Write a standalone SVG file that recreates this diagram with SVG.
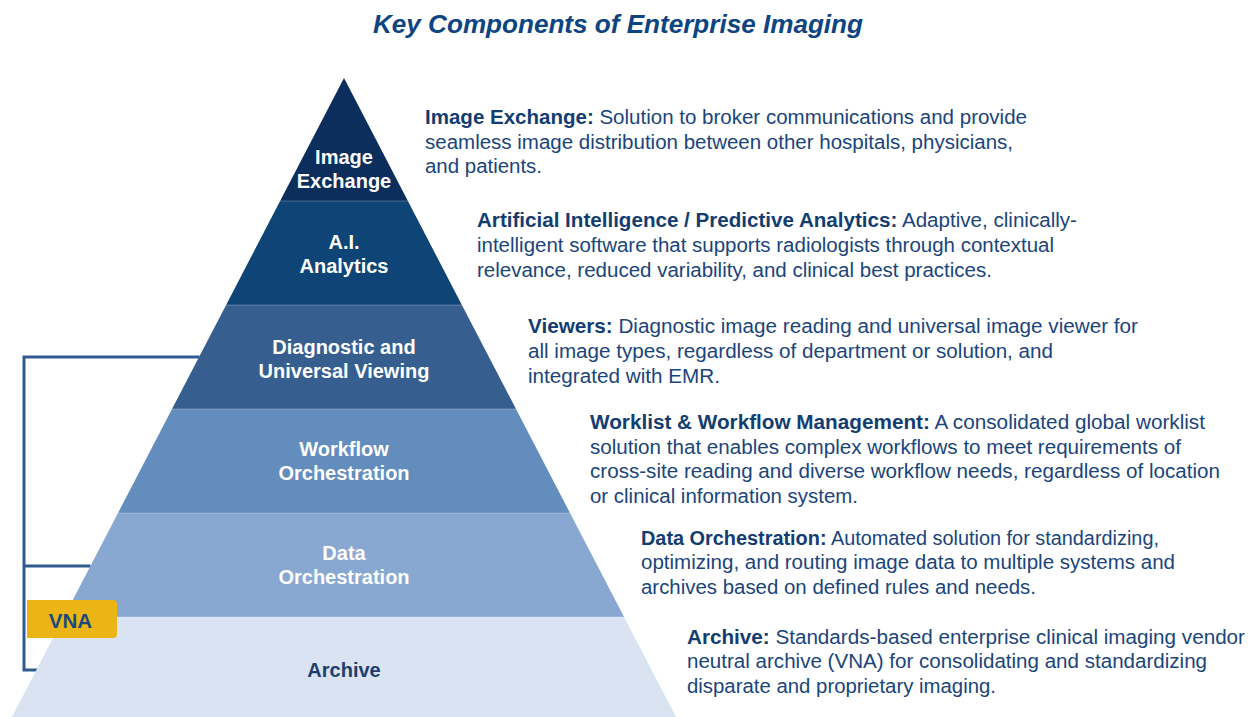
<svg xmlns="http://www.w3.org/2000/svg" width="1256" height="717" viewBox="0 0 1256 717">
  <style>
    .title { font-family: "Liberation Sans", Arial, sans-serif; font-size: 26px; font-weight: bold; font-style: italic; fill: #0d4482; }
    .lbl { font-family: "Liberation Sans", Arial, sans-serif; font-size: 20px; font-weight: bold; fill: #ffffff; text-anchor: middle; }
    .lbl-dark { fill: #1e3f6e; }
    .desc { font-family: "Liberation Sans", Arial, sans-serif; font-size: 19.5px; fill: #1a457b; }
    .desc .b { font-weight: bold; fill: #133d71; }
    .bracket { fill: none; stroke: #2f5b90; stroke-width: 3; }
    .sep { stroke: #ffffff; stroke-opacity: 0.25; stroke-width: 1; }
  </style>

  <rect width="1256" height="717" fill="#ffffff"/>

  <text class="title" x="373" y="33" textLength="490" lengthAdjust="spacingAndGlyphs">Key Components of Enterprise Imaging</text>

  <!-- VNA bracket lines -->
  <g id="connectors">
    <path class="bracket" d="M199.5 357 H24 V670 H37"/>
    <path class="bracket" d="M24 566 H90.5"/>
  </g>

  <!-- pyramid tiers, top to bottom -->
  <g id="tier-image-exchange">
    <polygon points="344,78 407.9,201 280.1,201" fill="#0b2e5c"/>
    <text class="lbl" x="344" y="164">Image</text>
    <text class="lbl" x="344" y="188">Exchange</text>
  </g>
  <g id="tier-ai-analytics">
    <polygon points="280.1,201 407.9,201 461.9,305 226.1,305" fill="#0f4476"/>
    <text class="lbl" x="344" y="249">A.I.</text>
    <text class="lbl" x="344" y="273">Analytics</text>
  </g>
  <g id="tier-viewing">
    <polygon points="226.1,305 461.9,305 516,409 172,409" fill="#365f90"/>
    <text class="lbl" x="344" y="354">Diagnostic and</text>
    <text class="lbl" x="344" y="378">Universal Viewing</text>
  </g>
  <g id="tier-workflow">
    <polygon points="172,409 516,409 570,513 118,513" fill="#628dbd"/>
    <text class="lbl" x="344" y="456">Workflow</text>
    <text class="lbl" x="344" y="480">Orchestration</text>
  </g>
  <g id="tier-data">
    <polygon points="118,513 570,513 624.1,617 63.9,617" fill="#88a8d2"/>
    <text class="lbl" x="344" y="560">Data</text>
    <text class="lbl" x="344" y="584">Orchestration</text>
  </g>
  <g id="tier-archive">
    <polygon points="63.9,617 624.1,617 676,717 12,717" fill="#d9e3f1"/>
    <text class="lbl lbl-dark" x="344" y="677">Archive</text>
  </g>
  <g id="tier-separators">
    <line class="sep" x1="280.1" y1="201" x2="407.9" y2="201"/>
    <line class="sep" x1="226.1" y1="305" x2="461.9" y2="305"/>
    <line class="sep" x1="172" y1="409" x2="516" y2="409"/>
    <line class="sep" x1="118" y1="513" x2="570" y2="513"/>
    <line class="sep" x1="63.9" y1="617" x2="624.1" y2="617"/>
  </g>

  <!-- VNA tag -->
  <g id="vna">
    <path d="M27 600 H113 Q117 600 117 604 V634 Q117 638 113 638 H27 Z" fill="#ebb515"/>
    <text x="70.5" y="628" font-family="Liberation Sans, Arial, sans-serif" font-size="20.5" font-weight="bold" fill="#1b4a80" text-anchor="middle">VNA</text>
  </g>

  <!-- descriptions -->
  <g id="desc-image-exchange" class="desc">
    <text x="425" y="124" textLength="602" lengthAdjust="spacingAndGlyphs"><tspan class="b">Image Exchange:</tspan> Solution to broker communications and provide</text>
    <text x="425" y="149" textLength="588" lengthAdjust="spacingAndGlyphs">seamless image distribution between other hospitals, physicians,</text>
    <text x="425" y="173" textLength="117" lengthAdjust="spacingAndGlyphs">and patients.</text>
  </g>
  <g id="desc-ai" class="desc">
    <text x="477" y="227" textLength="600" lengthAdjust="spacingAndGlyphs"><tspan class="b">Artificial Intelligence / Predictive Analytics:</tspan> Adaptive, clinically-</text>
    <text x="477" y="252" textLength="577" lengthAdjust="spacingAndGlyphs">intelligent software that supports radiologists through contextual</text>
    <text x="477" y="277" textLength="515" lengthAdjust="spacingAndGlyphs">relevance, reduced variability, and clinical best practices.</text>
  </g>
  <g id="desc-viewers" class="desc">
    <text x="528" y="333" textLength="610" lengthAdjust="spacingAndGlyphs"><tspan class="b">Viewers:</tspan> Diagnostic image reading and universal image viewer for</text>
    <text x="528" y="358" textLength="525" lengthAdjust="spacingAndGlyphs">all image types, regardless of department or solution, and</text>
    <text x="528" y="383" textLength="192" lengthAdjust="spacingAndGlyphs">integrated with EMR.</text>
  </g>
  <g id="desc-workflow" class="desc">
    <text x="590" y="429" textLength="615" lengthAdjust="spacingAndGlyphs"><tspan class="b">Worklist &amp; Workflow Management:</tspan> A consolidated global worklist</text>
    <text x="590" y="454" textLength="591" lengthAdjust="spacingAndGlyphs">solution that enables complex workflows to meet requirements of</text>
    <text x="590" y="478" textLength="630" lengthAdjust="spacingAndGlyphs">cross-site reading and diverse workflow needs, regardless of location</text>
    <text x="590" y="503" textLength="268" lengthAdjust="spacingAndGlyphs">or clinical information system.</text>
  </g>
  <g id="desc-data" class="desc">
    <text x="641" y="545" textLength="518" lengthAdjust="spacingAndGlyphs"><tspan class="b">Data Orchestration:</tspan> Automated solution for standardizing,</text>
    <text x="641" y="569" textLength="534" lengthAdjust="spacingAndGlyphs">optimizing, and routing image data to multiple systems and</text>
    <text x="641" y="594" textLength="395" lengthAdjust="spacingAndGlyphs">archives based on defined rules and needs.</text>
  </g>
  <g id="desc-archive" class="desc">
    <text x="687" y="644" textLength="558" lengthAdjust="spacingAndGlyphs"><tspan class="b">Archive:</tspan> Standards-based enterprise clinical imaging vendor</text>
    <text x="687" y="668" textLength="520" lengthAdjust="spacingAndGlyphs">neutral archive (VNA) for consolidating and standardizing</text>
    <text x="687" y="693" textLength="309" lengthAdjust="spacingAndGlyphs">disparate and proprietary imaging.</text>
  </g>
</svg>
